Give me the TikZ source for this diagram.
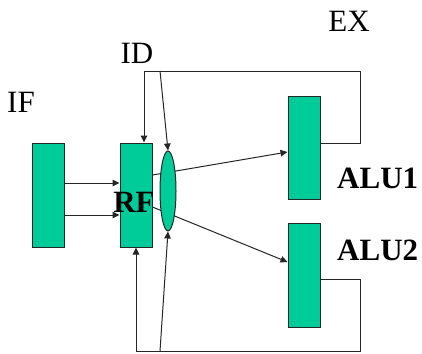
\documentclass[tikz,border=0pt]{standalone}
\usepackage{fontspec}
\setmainfont{Liberation Serif}
\usetikzlibrary{arrows.meta,shapes.geometric}
\definecolor{boxgreen}{HTML}{00CC99}
\begin{document}
\begin{tikzpicture}[x=1pt,y=-1pt,
  blk/.style={rectangle,draw=black!85,line width=1pt,fill=boxgreen,minimum width=32pt,inner sep=0pt},
  wire/.style={draw=black!85,line width=1pt},
  arr/.style={wire,-{Triangle[length=7pt,width=6.5pt]}},
  lbl/.style={font=\fontsize{31}{33}\selectfont,inner sep=0pt},
  blbl/.style={font=\fontsize{31}{33}\selectfont\bfseries,inner sep=0pt}]
\useasboundingbox (0,0) rectangle (422,353);
% coordinates for wire corners
\coordinate (tl) at (144,71);
\coordinate (tm) at (160,71);
\coordinate (tr) at (360,71);
\coordinate (t1) at (360,143);
\coordinate (bl) at (136,351);
\coordinate (bm) at (160,351);
\coordinate (br) at (360,351);
\coordinate (b2) at (360,279);
% nodes
\node[blk,minimum height=104pt] (if) at (48,195) {};
\node[blk,minimum height=104pt] (rf) at (136,195) {};
\node[blk,minimum height=103pt] (alu1) at (304,147.5) {};
\node[blk,minimum height=104pt] (alu2) at (304,275) {};
% wires
\draw[wire] ([yshift=4.5pt]alu1.east) -- (t1) -- (tr) -- (tl);
\draw[arr] (tl) -- ([xshift=8pt]rf.north);
\draw[wire] ([yshift=-4pt]alu2.east) -- (b2) -- (br) -- (bl);
\draw[arr] (bl) -- (rf.south);
\draw[arr] ([yshift=12pt]if.east) -- ([yshift=12pt]rf.west);
\draw[arr] ([yshift=-20pt]if.east) -- ([yshift=-20pt]rf.west);
\draw[arr] ([yshift=20pt]rf.east) -- ([yshift=-4.5pt]alu1.west);
\draw[arr] ([yshift=-12pt]rf.east) -- ([yshift=13pt]alu2.west);
% ellipse on top of lines
\node[ellipse,draw=black!85,line width=1pt,fill=boxgreen,minimum width=16pt,minimum height=80pt,inner sep=0pt] (mux) at (168,191) {};
\draw[arr] (tm) -- (mux.north);
\draw[arr] (bm) -- (mux.south);
% labels
\node[lbl] (lif) at (21,102) {IF};
\node[lbl] (lid) at (137,53) {ID};
\node[lbl] (lex) at (349,21) {EX};
\node[blbl] (lrf) at (134,202) {RF};
\node[blbl,anchor=west] (la1) at (337,178) {ALU1};
\node[blbl,anchor=west] (la2) at (337,250) {ALU2};
\end{tikzpicture}
\end{document}
